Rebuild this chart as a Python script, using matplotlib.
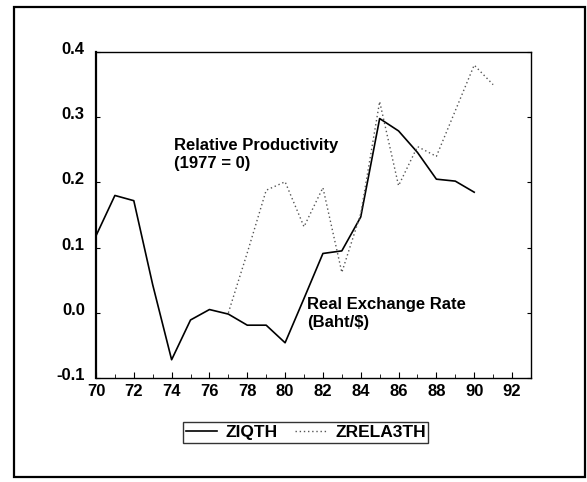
import matplotlib
matplotlib.use('Agg')
import matplotlib.pyplot as plt
import matplotlib.transforms as mtransforms
from matplotlib.patches import Rectangle

plt.rcParams['font.family'] = ['Liberation Sans', 'DejaVu Sans']
plt.rcParams['font.weight'] = 'bold'

# real exchange rate (solid) and relative productivity (dotted)
years_iq = list(range(70, 91))
ziqth = [0.118, 0.180, 0.172, 0.043, -0.072, -0.011, 0.005, -0.002, -0.019,
         -0.019, -0.046, 0.022, 0.091, 0.095, 0.147, 0.298, 0.279, 0.246,
         0.205, 0.202, 0.185]

years_rela = list(range(77, 92))
zrela3th = [0.0, 0.092, 0.188, 0.201, 0.132, 0.192, 0.062, 0.152, 0.324,
            0.195, 0.255, 0.240, 0.310, 0.380, 0.350]

x_ticks = list(range(70, 93, 2))
y_ticks = [-0.1, 0.0, 0.1, 0.2, 0.3, 0.4]
y_tick_labels = ['-0.1', '0.0', '0.1', '0.2', '0.3', '0.4']

fig = plt.figure(figsize=(5.87, 4.82), dpi=100)
ax = fig.add_axes([0.1635, 0.2158, 0.741, 0.6762])

ax.plot(years_iq, ziqth, color='black', lw=1.2, label='ZIQTH')
ax.plot(years_rela, zrela3th, color='#555555', lw=1.0, linestyle=(0, (1, 2)),
        label='ZRELA3TH')

ax.set_xlim(70, 93)
ax.set_ylim(-0.1, 0.4)
ax.set_xticks(x_ticks)
ax.set_xticks(range(70, 93), minor=True)
ax.set_yticks(y_ticks)
ax.set_yticklabels(y_tick_labels)
ax.tick_params(axis='both', which='both', direction='in', labelsize=12)
ax.tick_params(axis='x', which='major', length=4, pad=4)
ax.tick_params(axis='x', which='minor', length=3)
ax.tick_params(axis='y', length=3, pad=8, right=True)

# tick labels in the original sit a little above their ticks
shift = mtransforms.ScaledTranslation(0, 4 / 100, fig.dpi_scale_trans)
for lab in ax.get_yticklabels():
    lab.set_transform(lab.get_transform() + shift)

for side in ['top', 'right', 'bottom']:
    ax.spines[side].set_linewidth(1.0)
ax.spines['left'].set_linewidth(1.6)

ax.text(74.1, 0.268, 'Relative Productivity\n(1977 = 0)', fontsize=12,
        fontweight='bold', va='top', ha='left', linespacing=1.25)
ax.text(81.15, 0.024, 'Real Exchange Rate\n(Baht/$)', fontsize=12,
        fontweight='bold', va='top', ha='left', linespacing=1.25)

leg = fig.legend(loc='center', bbox_to_anchor=(0.521, 0.103), ncol=2,
                 fontsize=12.5, frameon=True, fancybox=False, handlelength=1.8,
                 handletextpad=0.5, columnspacing=1.0, borderpad=0.15,
                 borderaxespad=0)
leg.get_frame().set_edgecolor('black')
leg.get_frame().set_linewidth(1.0)

# outer frame around the whole chart
fig.patches.append(Rectangle((0.024, 0.0104), 0.973, 0.975, fill=False,
                             edgecolor='black', lw=1.6,
                             transform=fig.transFigure, figure=fig))

fig.savefig('out.png', dpi=100)
